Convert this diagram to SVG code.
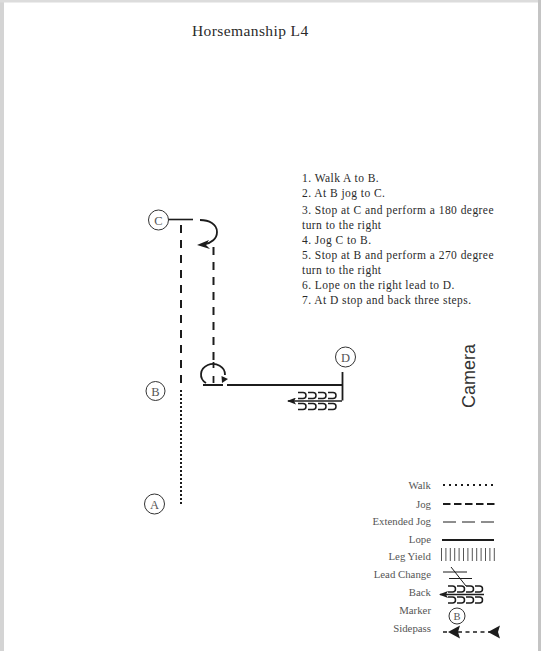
<svg xmlns="http://www.w3.org/2000/svg" width="541" height="651" viewBox="0 0 541 651">
<style>
text{font-family:"Liberation Serif",serif;fill:#2a2a2a}
.s{font-size:11.5px;letter-spacing:.45px}
.l{font-size:10.8px;fill:#555;text-anchor:end}
.m{font-size:12.5px;text-anchor:middle;fill:#555}
.c{fill:#fff;stroke:#333;stroke-width:1}
.ln{fill:none;stroke:#1c1c1c}
</style>
<defs>
<marker id="ah" markerWidth="9" markerHeight="7" refX="1" refY="3.5" orient="auto" markerUnits="userSpaceOnUse"><path d="M9 0L0 3.500L9 7L7 3.500Z" fill="#1c1c1c"/></marker>
<g id="backs"><path class="ln" stroke-width="1.500" d="M0 0h5a3 3 0 0 1 0 6h-5M10 0h5a3 3 0 0 1 0 6h-5M20 0h5a3 3 0 0 1 0 6h-5M30 0h5a3 3 0 0 1 0 6h-5"/></g>
<g id="backs-small"><path class="ln" stroke-width="1.500" d="M0 0h4.500a3 3 0 0 1 0 6h-4.500M9 0h4.500a3 3 0 0 1 0 6h-4.500M18 0h4.500a3 3 0 0 1 0 6h-4.500M27 0h4.500a3 3 0 0 1 0 6h-4.500"/></g>
</defs>
<rect width="541" height="651" fill="#fff"/>
<rect width="4" height="651" fill="#d4d4d4"/>
<rect width="541" height="2.500" fill="#dcdcdc"/>
<rect x="538" width="3" height="651" fill="#c4c4c4"/>
<text x="192" y="36" font-size="15.500" letter-spacing=".4">Horsemanship L4</text>
<g id="instructions" class="s">
<text x="302" y="182">1. Walk A to B.</text>
<text x="302" y="197">2. At B jog to C.</text>
<text x="302" y="214">3. Stop at C and perform a 180 degree</text>
<text x="302" y="229">turn  to the right</text>
<text x="302" y="244">4. Jog C to B.</text>
<text x="302" y="259">5. Stop at B and perform a 270 degree</text>
<text x="302" y="274">turn to the right</text>
<text x="302" y="289">6. Lope on the right lead to D.</text>
<text x="302" y="304">7. At D stop and back three steps.</text>
</g>
<text transform="translate(475 408) rotate(-90)" font-size="18" style="font-family:'Liberation Sans',sans-serif;fill:#333">Camera</text>
<g id="connectors">
<path class="ln" stroke-width="2" stroke-dasharray="2 2" d="M181 394V505"/>
<path class="ln" stroke-width="2" stroke-dasharray="8 7" d="M181 225V392"/>
<path class="ln" stroke-width="1.600" d="M168 219.500H193"/>
<path class="ln" stroke-width="1.800" d="M200 220C209 220 217 224 217 232C217 239 211 243 205 244"/>
<path d="M197 245L209 240L206 245L210 249Z" fill="#1c1c1c"/>
<path class="ln" stroke-width="2" stroke-dasharray="8 7" d="M213.500 247V362"/>
<path class="ln" stroke-width="1.800" d="M206 383A12 10.500 0 1 1 225 375"/>
<path d="M221.500 376L228 379L222 383Z" fill="#1c1c1c"/>
<path class="ln" stroke-width="1.800" d="M213.500 362V368M213.500 376V383M203 385H223M227 385H342.500M342.500 372V400.500"/>
<use href="#backs" x="298" y="392.500"/>
<use href="#backs" x="298" y="403.500"/>
<path class="ln" stroke-width="1.500" d="M288 401H342" marker-start="url(#ah)"/>
</g>
<g id="node-c"><circle class="c" cx="158.500" cy="220" r="10"/><text class="m" x="158.500" y="224.500">C</text></g>
<g id="node-b"><circle class="c" cx="155.500" cy="391" r="9.500"/><text class="m" x="155.500" y="395.500">B</text></g>
<g id="node-a"><circle class="c" cx="154.500" cy="504" r="10"/><text class="m" x="154.500" y="508.500">A</text></g>
<g id="node-d"><circle class="c" cx="345.500" cy="357" r="10"/><text class="m" x="345.500" y="361.500">D</text></g>
<g id="legend">
<text class="l" x="431" y="489">Walk</text>
<text class="l" x="431" y="508">Jog</text>
<text class="l" x="431" y="525">Extended Jog</text>
<text class="l" x="431" y="543">Lope</text>
<text class="l" x="431" y="560">Leg Yield</text>
<text class="l" x="431" y="578">Lead Change</text>
<text class="l" x="431" y="596">Back</text>
<text class="l" x="431" y="614">Marker</text>
<text class="l" x="431" y="632">Sidepass</text>
<path class="ln" stroke-width="2" stroke-dasharray="2 4" d="M443 485H494"/>
<path class="ln" stroke-width="2" stroke-dasharray="7.500 3.500" d="M443 504H496"/>
<path class="ln" stroke-width="1" stroke-dasharray="13 6" d="M443 522H494"/>
<path class="ln" stroke-width="2" d="M442 540H494"/>
<path fill="none" stroke="#555" stroke-width="1" d="M441.500 548V561M445.900 548V561M450.300 548V561M454.700 548V561M459.100 548V561M463.500 548V561M467.900 548V561M472.300 548V561M476.700 548V561M481.100 548V561M485.500 548V561M489.900 548V561M494.300 548V561"/>
<path class="ln" stroke-width="1" d="M443 572H467M449 578.500H472M451 567L466 586"/>
<use href="#backs-small" x="448" y="586"/>
<use href="#backs-small" x="448" y="597"/>
<path class="ln" stroke-width="1.500" d="M440 594.500H484" marker-start="url(#ah)"/>
<circle class="c" cx="457" cy="616" r="8"/><text class="m" x="457" y="620" style="font-size:10.500px">B</text>
<path class="ln" stroke-width="1.400" stroke-dasharray="4 3.500" d="M443 632H498"/>
<path d="M448 632L460 625.500L458 632L460 638.500ZM488 632L500 625.500L498 632L500 638.500Z" fill="#1c1c1c"/>
</g>
</svg>
